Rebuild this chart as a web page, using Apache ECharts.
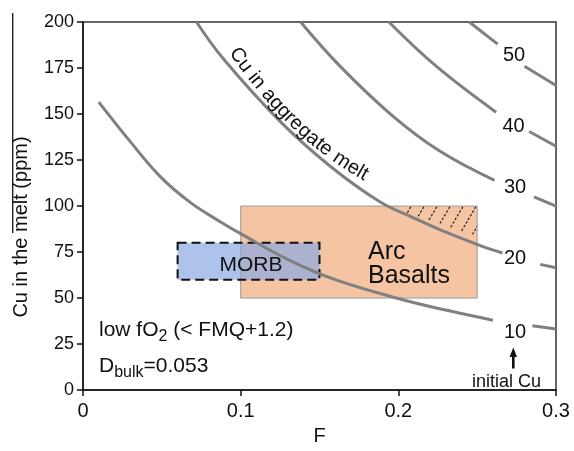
<!DOCTYPE html>
<html>
<head>
<meta charset="utf-8">
<title>Cu in the melt vs F</title>
<script src="https://cdn.jsdelivr.net/npm/echarts@6/dist/echarts.min.js"></script>
<style>html,body{margin:0;padding:0;background:#fff;}</style>
</head>
<body>
<div id="main" style="width:574px;height:451px;"></div>
<script type="text/javascript">
// curves of Cu in aggregate melt: [F, Cu ppm]
// each curve is broken where its initial Cu label sits, the tail is the bit after the label
var cu10 = [[0.010,156.5],[0.030,135],[0.049,116],[0.068,102],[0.087,91.5],[0.100,85],[0.131,70.5],[0.160,60],[0.201,49.5],[0.230,43.5],[0.260,38]];
var cu10Tail = [[0.285,35],[0.300,33.2]];
var cu20 = [[0.072,200],[0.089,180],[0.125,146],[0.157,121.5],[0.188,102.5],[0.210,93.5],[0.231,85.5],[0.252,78.5],[0.266,74.5]];
var cu20Tail = [[0.290,68.3],[0.300,66.5]];
var cu30 = [[0.138,200],[0.163,176],[0.195,150],[0.226,130],[0.261,114]];
var cu30Tail = [[0.286,105],[0.300,100]];
var cu40 = [[0.194,200],[0.224,176],[0.262,151]];
var cu40Tail = [[0.283,140.5],[0.300,132.5]];
var cu50 = [[0.245,200],[0.263,188]];
var cu50Tail = [[0.280,176],[0.300,165.5]];
var initialCu = ['10', '20', '30', '40', '50'];

// fields
var arcF = [0.10, 0.25], arcCu = [50, 100];
var morbF = [0.06, 0.15], morbCu = [60, 80];
// hatched corner of the arc field (lower edge, top is Cu = 100)
var hatchEdge = [[0.205,96],[0.220,91.5],[0.235,87],[0.250,84]];

var FONT = "'Liberation Sans', Arial, sans-serif";
var INK = '#111';
var CURVE = '#808080';

var myChart = echarts.init(document.getElementById('main'));

// dotted diagonal hatch pattern
var hatchCanvas = document.createElement('canvas');
hatchCanvas.width = 13; hatchCanvas.height = 22;
var hctx = hatchCanvas.getContext('2d');
hctx.strokeStyle = '#222';
hctx.lineWidth = 1.2;
hctx.setLineDash([2.5, 1.8]);
[-13, 0, 13].forEach(function (o) {
    hctx.beginPath();
    hctx.moveTo(o, 22);
    hctx.lineTo(o + 13, 0);
    hctx.stroke();
});

function rectItem(style) {
    return function (params, api) {
        var p0 = api.coord([api.value(0), api.value(3)]);
        var p1 = api.coord([api.value(1), api.value(2)]);
        return {
            type: 'rect',
            shape: {x: p0[0], y: p0[1], width: p1[0] - p0[0], height: p1[1] - p0[1]},
            style: style
        };
    };
}

function curveSeries(data) {
    return {
        type: 'line',
        z: 3,
        silent: true,
        smooth: 0.4,
        showSymbol: false,
        lineStyle: {color: CURVE, width: 3},
        data: data
    };
}

// "Cu in aggregate melt" laid letter by letter along a gentle arc
function arcText(str, p0, c, p2, size) {
    var ctx = document.createElement('canvas').getContext('2d');
    ctx.font = size + "px 'Liberation Sans'";
    var pts = [], len = [0], n = 300;
    for (var i = 0; i <= n; i++) {
        var t = i / n;
        var x = (1 - t) * (1 - t) * p0[0] + 2 * (1 - t) * t * c[0] + t * t * p2[0];
        var y = (1 - t) * (1 - t) * p0[1] + 2 * (1 - t) * t * c[1] + t * t * p2[1];
        pts.push([x, y]);
        if (i > 0) len.push(len[i - 1] + Math.hypot(x - pts[i - 1][0], y - pts[i - 1][1]));
    }
    var out = [], pos = 0;
    for (var j = 0; j < str.length; j++) {
        var w = ctx.measureText(str[j]).width;
        var s = pos + w / 2, k = 1;
        while (k < n - 1 && len[k] < s) k++;
        var a = Math.atan2(pts[k + 1][1] - pts[k - 1][1], pts[k + 1][0] - pts[k - 1][0]);
        out.push({
            type: 'text', x: pts[k][0], y: pts[k][1], rotation: -a, silent: true, z: 100,
            style: {text: str[j], fontSize: size, fontFamily: FONT, fill: INK, align: 'center', verticalAlign: 'middle'}
        });
        pos += w;
    }
    return out;
}

function label(text, x, y, size, align) {
    return {
        type: 'text', x: x, y: y, silent: true, z: 100,
        style: {text: text, fontSize: size, fontFamily: FONT, fill: INK, align: align || 'center', verticalAlign: 'middle'}
    };
}

var labelPos = [[515, 332], [515, 258], [515, 187.5], [513.5, 126], [514, 55]];

var graphics = [
    // y axis title with the bar over "melt"
    {
        type: 'text', x: 21, y: 227, rotation: Math.PI / 2, silent: true, z: 100,
        style: {text: 'Cu in the melt (ppm)', fontSize: 20, fontFamily: FONT, fill: INK, align: 'center', verticalAlign: 'middle'}
    },
    {type: 'line', silent: true, z: 100, shape: {x1: 12.7, y1: 13, x2: 12.7, y2: 233}, style: {stroke: INK, lineWidth: 1.3}},
    label('MORB', 251, 265, 21),
    label('Arc', 368, 252.5, 25, 'left'),
    label('Basalts', 368, 276, 25, 'left'),
    label('initial Cu', 506.5, 382, 18),
    {type: 'line', silent: true, z: 100, shape: {x1: 513.3, y1: 355, x2: 513.3, y2: 368.5}, style: {stroke: INK, lineWidth: 2.6}},
    {type: 'polygon', silent: true, z: 100, shape: {points: [[513.3, 347.5], [509.6, 357], [517, 357]]}, style: {fill: INK}},
    {
        type: 'text', x: 99, y: 330, silent: true, z: 100,
        style: {
            text: '{a|low fO}{s|2}{a| (< FMQ+1.2)}', fill: INK, verticalAlign: 'middle',
            rich: {
                a: {fontSize: 21, fontFamily: FONT, fill: INK},
                s: {fontSize: 16, fontFamily: FONT, fill: INK, padding: [13, 0, 0, 0]}
            }
        }
    },
    {
        type: 'text', x: 99, y: 366, silent: true, z: 100,
        style: {
            text: '{a|D}{s|bulk}{a|=0.053}', fill: INK, verticalAlign: 'middle',
            rich: {
                a: {fontSize: 21, fontFamily: FONT, fill: INK},
                s: {fontSize: 16, fontFamily: FONT, fill: INK, padding: [14, 0, 0, 0]}
            }
        }
    }
];
initialCu.forEach(function (t, i) {
    graphics.push(label(t, labelPos[i][0], labelPos[i][1], 20));
});
graphics = graphics.concat(arcText('Cu in aggregate melt', [233, 49], [295, 138], [371, 178], 20));

var option = {
    backgroundColor: '#fff',
    animation: false,
    grid: {
        left: 83, right: 18, top: 22, bottom: 55,
        show: true, borderColor: '#333', borderWidth: 1.5
    },
    xAxis: {
        type: 'value',
        min: 0, max: 0.3, interval: 0.1,
        name: 'F',
        nameLocation: 'middle',
        nameGap: 30,
        nameTextStyle: {fontSize: 20, fontFamily: FONT, color: INK},
        axisLine: {lineStyle: {color: INK, width: 1.5}},
        axisTick: {inside: false, length: 6, lineStyle: {color: INK, width: 1.5}},
        axisLabel: {fontSize: 20, fontFamily: FONT, color: INK, margin: 11},
        splitLine: {show: false}
    },
    yAxis: {
        type: 'value',
        min: 0, max: 200, interval: 25,
        axisLine: {show: true, lineStyle: {color: INK, width: 1.5}},
        axisTick: {show: true, inside: false, length: 6, lineStyle: {color: INK, width: 1.5}},
        axisLabel: {fontSize: 18, fontFamily: FONT, color: INK, margin: 9},
        splitLine: {show: false}
    },
    graphic: {elements: graphics},
    series: [
        {
            type: 'custom', z: 1, silent: true,
            data: [[arcF[0], arcF[1], arcCu[0], arcCu[1]]],
            renderItem: rectItem({fill: '#f4c4a3', stroke: '#9c9c9c', lineWidth: 1})
        },
        {
            type: 'custom', z: 2, silent: true,
            data: [[0]],
            renderItem: function (params, api) {
                var pts = [api.coord([hatchEdge[0][0], arcCu[1]]), api.coord([arcF[1], arcCu[1]])];
                for (var i = hatchEdge.length - 1; i >= 0; i--) pts.push(api.coord(hatchEdge[i]));
                return {type: 'polygon', shape: {points: pts}, style: {fill: {image: hatchCanvas, repeat: 'repeat'}}};
            }
        },
        {
            type: 'custom', z: 2, silent: true,
            data: [[morbF[0], morbF[1], morbCu[0], morbCu[1]]],
            renderItem: rectItem({fill: 'rgba(140,170,225,0.7)', stroke: '#111', lineWidth: 2, lineDash: [9, 5]})
        },
        curveSeries(cu10), curveSeries(cu10Tail),
        curveSeries(cu20), curveSeries(cu20Tail),
        curveSeries(cu30), curveSeries(cu30Tail),
        curveSeries(cu40), curveSeries(cu40Tail),
        curveSeries(cu50), curveSeries(cu50Tail)
    ]
};

myChart.setOption(option);
</script>
</body>
</html>
